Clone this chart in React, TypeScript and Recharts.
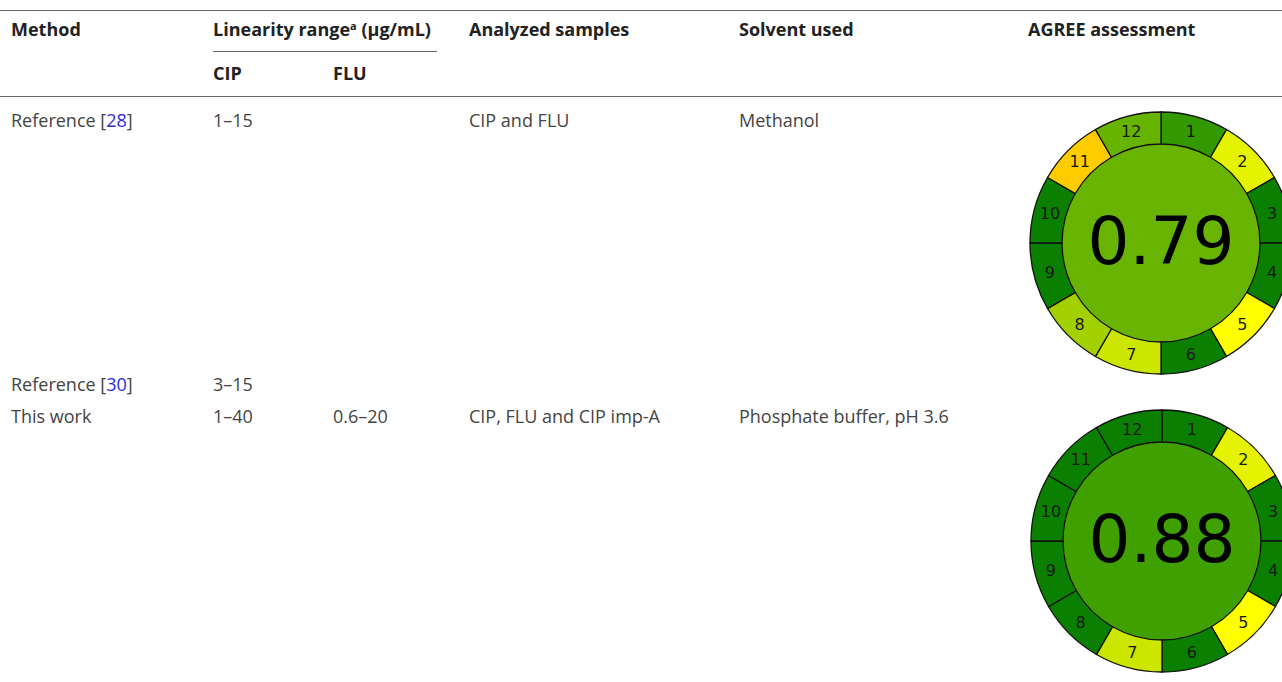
import React from 'react';
import { PieChart, Pie, Cell } from 'recharts';

// table content
const HEADERS = ['Method', 'Linearity range', 'Analyzed samples', 'Solvent used', 'AGREE assessment'];
const SUB_HEADERS = ['CIP', 'FLU'];
const METHODS = ['Reference', 'Reference', 'This work'];
const METHOD_REFS = ['28', '30', ''];
const CIP_RANGES = ['1–15', '3–15', '1–40'];
const FLU_RANGES = ['', '', '0.6–20'];
const SAMPLES = ['CIP and FLU', '', 'CIP, FLU and CIP imp-A'];
const SOLVENTS = ['Methanol', '', 'Phosphate buffer, pH 3.6'];

// AGREE pictograms: 12 principles, equal weights
const PRINCIPLES = ['1', '2', '3', '4', '5', '6', '7', '8', '9', '10', '11', '12'];
const AGREE_SCORES = [0.79, 0.88];
const CENTER_COLORS = ['#68b400', '#40a000'];
const REF28_COLORS = [
  '#339900', '#e5f300', '#0a7f00', '#0a7f00', '#ffff00', '#0a7f00',
  '#cce600', '#a3d100', '#0a7f00', '#0a7f00', '#ffcc00', '#66b300',
];
const THIS_WORK_COLORS = [
  '#0a7f00', '#e5f300', '#0a7f00', '#0a7f00', '#ffff00', '#0a7f00',
  '#cce600', '#0a7f00', '#0a7f00', '#0a7f00', '#0a7f00', '#0a7f00',
];

const RAD = Math.PI / 180;
const FONT = '"Open Sans", sans-serif';
const NO_MARGIN = { top: 0, right: 0, bottom: 0, left: 0 };

function SegmentLabel(props: any) {
  const { cx, cy, midAngle, innerRadius, outerRadius, payload } = props;
  const r = (innerRadius + outerRadius) / 2;
  const x = cx + r * Math.cos(-midAngle * RAD);
  const y = cy + r * Math.sin(-midAngle * RAD);
  return (
    <text x={x} y={y} textAnchor="middle" dominantBaseline="central"
      fontFamily="DejaVu Sans" fontSize={16} fill="#1a1a1a">
      {payload.name}
    </text>
  );
}

function AgreeChart({ colors, score, center }: { colors: string[]; score: number; center: string }) {
  const segments = PRINCIPLES.map((p, i) => ({ name: p, value: 1, color: colors[i] }));
  const core = [{ name: 'score', value: score }];
  return (
    <PieChart width={300} height={300} margin={NO_MARGIN}>
      <Pie data={core} dataKey="value" cx={150} cy={150} innerRadius={0} outerRadius={99}
        startAngle={90} endAngle={-270} stroke="none" fill={center}
        labelLine={false} isAnimationActive={false}
        label={(p: any) => (
          <text x={p.cx} y={p.cy + 21} textAnchor="middle" fontFamily="DejaVu Sans"
            fontSize={66} fill="#000">{score.toFixed(2)}</text>
        )} />
      <Pie data={segments} dataKey="value" cx={150} cy={150} innerRadius={99} outerRadius={131}
        startAngle={90} endAngle={-270} stroke="#111" strokeWidth={1.3}
        label={SegmentLabel} labelLine={false} isAnimationActive={false}>
        {segments.map((s, i) => <Cell key={i} fill={s.color} />)}
      </Pie>
    </PieChart>
  );
}

const cell = (left: number, top: number, bold = false): React.CSSProperties => ({
  position: 'absolute', left, top, fontFamily: FONT, fontSize: 18, lineHeight: '20px',
  whiteSpace: 'nowrap', fontWeight: bold ? 700 : 400, color: bold ? '#222' : '#444',
});

const COL_X = [11, 213, 469, 739, 1028];
const ROW_Y = [110, 374, 406];

export default function App() {
  return (
    <div style={{ position: 'absolute', left: 0, top: 0, width: 1282, height: 682, overflow: 'hidden', background: '#fff' }}>
      <div style={{ position: 'absolute', left: 0, top: 10, width: 1282, height: 1, background: '#666' }} />
      <div style={{ position: 'absolute', left: 213, top: 51, width: 224, height: 1, background: '#666' }} />
      <div style={{ position: 'absolute', left: 0, top: 96, width: 1282, height: 1, background: '#666' }} />

      {HEADERS.map((h, i) => (
        <div key={h} style={cell(COL_X[i], 19, true)}>
          {h}{i === 1 && <><sup style={{ fontSize: 11, lineHeight: 0, verticalAlign: 6 }}>a</sup> (μg/mL)</>}
        </div>
      ))}
      <div style={cell(213, 63, true)}>{SUB_HEADERS[0]}</div>
      <div style={cell(333, 63, true)}>{SUB_HEADERS[1]}</div>

      {METHODS.map((m, i) => (
        <React.Fragment key={i}>
          <div style={cell(COL_X[0], ROW_Y[i])}>
            {m}{METHOD_REFS[i] && <> [<span style={{ color: '#2b2bd9' }}>{METHOD_REFS[i]}</span>]</>}
          </div>
          <div style={cell(213, ROW_Y[i])}>{CIP_RANGES[i]}</div>
          <div style={cell(333, ROW_Y[i])}>{FLU_RANGES[i]}</div>
          <div style={cell(COL_X[2], ROW_Y[i])}>{SAMPLES[i]}</div>
          <div style={cell(COL_X[3], ROW_Y[i])}>{SOLVENTS[i]}</div>
        </React.Fragment>
      ))}

      <div style={{ position: 'absolute', left: 1011, top: 93 }}>
        <AgreeChart colors={REF28_COLORS} score={AGREE_SCORES[0]} center={CENTER_COLORS[0]} />
      </div>
      <div style={{ position: 'absolute', left: 1012, top: 391 }}>
        <AgreeChart colors={THIS_WORK_COLORS} score={AGREE_SCORES[1]} center={CENTER_COLORS[1]} />
      </div>
    </div>
  );
}
